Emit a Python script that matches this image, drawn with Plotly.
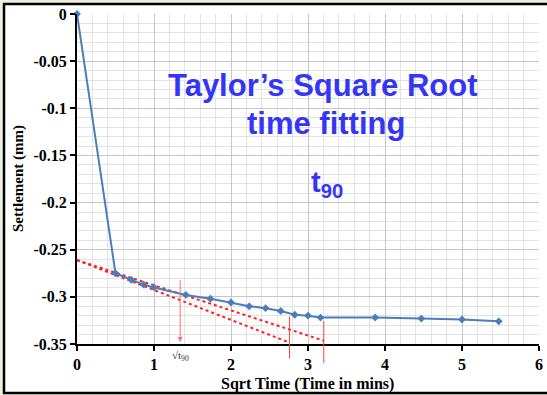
import plotly.graph_objects as go

# ---- data ----
sqrt_time = [0, 0.5, 0.707, 0.866, 1.0, 1.414, 1.732, 2.0, 2.236, 2.449,
             2.646, 2.828, 3.0, 3.162, 3.873, 4.472, 5.0, 5.477]
settlement = [0, -0.275, -0.282, -0.287, -0.290, -0.298, -0.302, -0.306,
              -0.310, -0.312, -0.315, -0.319, -0.320, -0.322, -0.322,
              -0.323, -0.324, -0.326]

# Taylor construction lines
initial_line_x = [0, 2.76]
initial_line_y = [-0.261, -0.3485]
line_115_x = [0, 3.205]
line_115_y = [-0.261, -0.3465]
drop_x = [2.76, 3.205]
drop_top_y = [-0.321, -0.3256]
drop_bottom_y = [-0.367, -0.372]
t90_x = 1.34
t90_arrow_y = [-0.2806, -0.348]

x_ticks = [0, 1, 2, 3, 4, 5, 6]
y_ticks = [0, -0.05, -0.1, -0.15, -0.2, -0.25, -0.3, -0.35]
y_ticktext = ["0", "-0.05", "-0.1", "-0.15", "-0.2", "-0.25", "-0.3", "-0.35"]

W, H = 547, 395
L, R, T, B = 77, 8, 14, 51
pw, ph = W - L - R, H - T - B

def px_x(p):
    return (p - L) / pw

def px_y(p):
    return (H - B - p) / ph

fig = go.Figure()

fig.add_trace(go.Scatter(x=initial_line_x, y=initial_line_y, mode="lines",
                         line=dict(color="#ff2020", width=2, dash="dot"),
                         hoverinfo="skip"))
fig.add_trace(go.Scatter(x=line_115_x, y=line_115_y, mode="lines",
                         line=dict(color="#ff2020", width=2, dash="dot"),
                         hoverinfo="skip"))
fig.add_trace(go.Scatter(x=sqrt_time, y=settlement, mode="lines+markers",
                         line=dict(color="#4a7ebb", width=2),
                         marker=dict(symbol="diamond", size=6, color="#4a7ebb"),
                         cliponaxis=False))

annotations = []
# vertical drop lines (extend below axis)
for xv, yt, yb in zip(drop_x, drop_top_y, drop_bottom_y):
    annotations.append(dict(x=xv, y=yt, xref="x", yref="y", ax=xv, ay=yb,
                            axref="x", ayref="y", text="", showarrow=True,
                            arrowhead=0, arrowwidth=1, arrowcolor="#ff4040",
                            standoff=0, startstandoff=0))
# t90 arrow
annotations.append(dict(x=t90_x, y=t90_arrow_y[1], xref="x", yref="y",
                        ax=t90_x, ay=t90_arrow_y[0], axref="x", ayref="y",
                        text="", showarrow=True, arrowhead=2, arrowsize=1,
                        arrowwidth=1, arrowcolor="#ff7070", standoff=0,
                        startstandoff=0))
annotations.append(dict(x=t90_x, y=-0.35, xref="x", yref="y", yshift=-12,
                        text="√t<sub>90</sub>", showarrow=False,
                        font=dict(family="Liberation Serif", size=11, color="#333333")))

blue = "#3535f5"
tfont = dict(family="Liberation Sans", size=31, color=blue, weight="bold")
annotations.append(dict(x=px_x(323), y=px_y(85), xref="paper", yref="paper",
                        text="Taylor’s Square Root", showarrow=False, font=tfont,
                        xanchor="center", yanchor="middle"))
annotations.append(dict(x=px_x(326), y=px_y(123), xref="paper", yref="paper",
                        text="time fitting", showarrow=False, font=tfont,
                        xanchor="center", yanchor="middle"))
annotations.append(dict(x=px_x(327), y=px_y(184), xref="paper", yref="paper",
                        text="t<sub>90</sub>", showarrow=False,
                        font=dict(family="Liberation Sans", size=29, color=blue, weight="bold"),
                        xanchor="center", yanchor="middle"))

# axis titles
title_font = dict(family="Liberation Serif", size=16, color="black", weight="bold")
annotations.append(dict(x=px_x(307), y=px_y(384), xref="paper", yref="paper",
                        text="Sqrt Time (Time in mins)", showarrow=False,
                        font=title_font, xanchor="center", yanchor="middle"))
annotations.append(dict(x=px_x(18), y=px_y(179), xref="paper", yref="paper",
                        text="Settlement (mm)", showarrow=False, textangle=-90,
                        font=dict(family="Liberation Serif", size=15, color="black", weight="bold"),
                        xanchor="center", yanchor="middle"))

shapes = [dict(type="rect", xref="paper", yref="paper",
               x0=px_x(4), x1=px_x(W + 5), y0=px_y(393), y1=px_y(4),
               fillcolor="white", line=dict(color="black", width=2.5),
               layer="below")]

axis_font = dict(family="Liberation Serif", size=16, color="black", weight="bold")

fig.update_layout(
    width=W, height=H,
    margin=dict(l=L, r=R, t=T, b=B, autoexpand=False),
    paper_bgcolor="#efefdc",
    plot_bgcolor="white",
    showlegend=False,
    annotations=annotations,
    shapes=shapes,
    xaxis=dict(range=[0, 6], tickvals=x_ticks, ticks="outside", ticklen=5,
               tickcolor="black", tickwidth=1.5, automargin=False,
               showline=True, linecolor="black", linewidth=2,
               showgrid=True, gridcolor="#c6c6c6", gridwidth=1,
               minor=dict(dtick=0.2, showgrid=True, gridcolor="#e3e3e3", gridwidth=1),
               tickfont=axis_font, zeroline=False),
    yaxis=dict(range=[-0.35, 0], tickvals=y_ticks, ticktext=y_ticktext,
               ticks="outside", ticklen=5, tickcolor="black", tickwidth=1.5,
               automargin=False,
               showline=True, linecolor="black", linewidth=2,
               showgrid=True, gridcolor="#c6c6c6", gridwidth=1,
               minor=dict(dtick=0.01, showgrid=True, gridcolor="#e3e3e3", gridwidth=1),
               tickfont=axis_font, zeroline=False),
)

fig.write_html("out.html", config={"displayModeBar": False},
               post_script="document.body.style.margin='0';")
